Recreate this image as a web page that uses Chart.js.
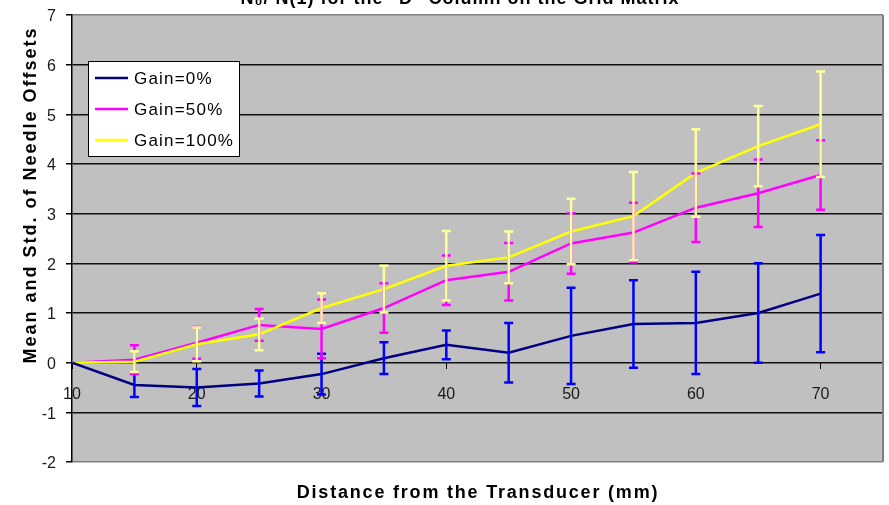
<!DOCTYPE html>
<html>
<head>
<meta charset="utf-8">
<script src="https://cdn.jsdelivr.net/npm/chart.js@4.4.1/dist/chart.umd.min.js"></script>
<style>
  html, body { margin: 0; padding: 0; background: #ffffff; }
  #wrap { width: 889px; height: 505px; }
</style>
</head>
<body>
<div id="wrap"><canvas id="c" width="889" height="505"></canvas></div>
<script>
// Distance from the transducer (mm)
const distances = [10, 15, 20, 25, 30, 35, 40, 45, 50, 55, 60, 65, 70];

// Mean needle offset and its standard deviation for each gain setting
const mean0   = [0, -0.45, -0.50, -0.42, -0.23, 0.09, 0.36, 0.20, 0.54, 0.78, 0.80, 1.00, 1.39];
const std0    = [null, 0.24, 0.37, 0.26, 0.41, 0.32, 0.29, 0.60, 0.97, 0.88, 1.03, 1.00, 1.18];
const mean50  = [0, 0.06, 0.40, 0.76, 0.68, 1.10, 1.66, 1.83, 2.40, 2.62, 3.12, 3.41, 3.78];
const std50   = [null, 0.29, 0.32, 0.32, 0.59, 0.50, 0.50, 0.58, 0.61, 0.60, 0.69, 0.68, 0.70];
const mean100 = [0, 0.02, 0.37, 0.57, 1.10, 1.48, 1.95, 2.12, 2.64, 2.95, 3.82, 4.36, 4.80];
const std100  = [null, 0.21, 0.34, 0.32, 0.30, 0.47, 0.70, 0.52, 0.66, 0.89, 0.88, 0.81, 1.06];

const seriesNames = ['Gain=0%', 'Gain=50%', 'Gain=100%'];

// Axis ticks
const xTicks = [10, 20, 30, 40, 50, 60, 70];
const yTicks = [-2, -1, 0, 1, 2, 3, 4, 5, 6, 7];

const chartTitle = 'N\u2080/ N(1) for the "D" Column on the Grid Matrix';
const xTitle = 'Distance from the Transducer (mm)';
const yTitle = 'Mean and Std. of Needle Offsets';

const FONT = '"Liberation Sans", Arial, sans-serif';

const lineColors = ['#000080', '#ff00ff', '#ffff00'];
const barColors  = ['#0000ff', '#ff00ff', '#ffff99'];
const means = [mean0, mean50, mean100];
const stds  = [std0, std50, std100];

const toPoints = arr => distances.map((d, i) => ({ x: d, y: arr[i] }));

// Gray plotting area, its frame, error bars, legend and titles
const decorations = {
  id: 'decorations',
  beforeDraw(chart) {
    const { ctx, chartArea: a } = chart;
    ctx.save();
    ctx.fillStyle = '#c0c0c0';
    ctx.fillRect(a.left, a.top, a.right - a.left, a.bottom - a.top);
    ctx.restore();
  },
  beforeDatasetsDraw(chart) {
    const { ctx, chartArea: a } = chart;
    ctx.save();
    ctx.strokeStyle = '#808080';
    ctx.lineWidth = 2;
    ctx.beginPath();
    ctx.moveTo(a.right, a.top);
    ctx.lineTo(a.right, a.bottom);
    ctx.stroke();
    ctx.restore();
  },
  afterDatasetsDraw(chart) {
    const { ctx } = chart;
    const xs = chart.scales.x, ys = chart.scales.y;
    ctx.save();
    ctx.lineWidth = 2.5;
    ctx.lineCap = 'butt';
    means.forEach((m, s) => {
      ctx.strokeStyle = barColors[s];
      distances.forEach((d, i) => {
        const sd = stds[s][i];
        if (sd === null) return;
        const px = xs.getPixelForValue(d);
        const top = ys.getPixelForValue(m[i] + sd);
        const bot = ys.getPixelForValue(m[i] - sd);
        const cap = 4.5;
        ctx.beginPath();
        ctx.moveTo(px, top); ctx.lineTo(px, bot);
        ctx.moveTo(px - cap, top); ctx.lineTo(px + cap, top);
        ctx.moveTo(px - cap, bot); ctx.lineTo(px + cap, bot);
        ctx.stroke();
      });
    });
    ctx.restore();
  },
  afterDraw(chart) {
    const { ctx } = chart;
    ctx.save();

    // legend
    const lx = 88.5, ly = 61.5, lw = 151, lh = 95;
    ctx.fillStyle = '#ffffff';
    ctx.fillRect(lx, ly, lw, lh);
    ctx.strokeStyle = '#000000';
    ctx.lineWidth = 1;
    ctx.strokeRect(lx, ly, lw, lh);
    const rows = [78, 109, 140];
    ctx.font = '17px ' + FONT;
    ctx.letterSpacing = '1.2px';
    ctx.textBaseline = 'middle';
    ctx.textAlign = 'left';
    seriesNames.forEach((name, i) => {
      ctx.strokeStyle = lineColors[i];
      ctx.lineWidth = 2.5;
      ctx.beginPath();
      ctx.moveTo(95, rows[i]); ctx.lineTo(128, rows[i]);
      ctx.stroke();
      ctx.fillStyle = '#000000';
      ctx.fillText(name, 134, rows[i] + 1);
    });

    // chart title (runs off the top edge)
    ctx.font = 'bold 18px ' + FONT;
    ctx.letterSpacing = '1px';
    ctx.textAlign = 'center';
    ctx.textBaseline = 'alphabetic';
    ctx.fillText(chartTitle, 460, 4);

    // x axis title
    ctx.letterSpacing = '1.8px';
    ctx.textBaseline = 'middle';
    ctx.fillText(xTitle, 478, 493);

    // y axis title
    ctx.letterSpacing = '2px';
    ctx.translate(31, 195);
    ctx.rotate(-Math.PI / 2);
    ctx.fillText(yTitle, 0, 0);
    ctx.restore();
  }
};

new Chart(document.getElementById('c'), {
  type: 'line',
  data: {
    datasets: [
      { label: seriesNames[0], data: toPoints(mean0), borderColor: lineColors[0], order: 0 },
      { label: seriesNames[1], data: toPoints(mean50), borderColor: lineColors[1], order: 2 },
      { label: seriesNames[2], data: toPoints(mean100), borderColor: lineColors[2], order: 1 }
    ]
  },
  options: {
    responsive: false,
    animation: false,
    devicePixelRatio: 1,
    layout: { autoPadding: false, padding: { left: 0, top: 15, right: 6, bottom: 43 } },
    elements: {
      line: { borderWidth: 2.5, tension: 0, fill: false },
      point: { radius: 0, hoverRadius: 0 }
    },
    plugins: {
      legend: { display: false },
      title: { display: false },
      tooltip: { enabled: false }
    },
    scales: {
      x: {
        type: 'linear',
        position: { y: 0 },
        min: 10,
        max: 75,
        afterBuildTicks: s => { s.ticks = xTicks.map(v => ({ value: v })); },
        afterFit: s => { s.paddingLeft = 0; s.paddingRight = 0; },
        ticks: {
          font: { family: FONT, size: 16 },
          color: '#1a1a1a',
          padding: 16,
          maxRotation: 0,
          autoSkip: false
        },
        grid: { drawOnChartArea: false, drawTicks: true, tickLength: 6, tickColor: '#000000' },
        border: { display: false }
      },
      y: {
        type: 'linear',
        min: -2,
        max: 7,
        afterBuildTicks: s => { s.ticks = yTicks.map(v => ({ value: v })); },
        afterFit: s => { s.width = 72; s.paddingTop = 0; s.paddingBottom = 0; },
        ticks: {
          font: { family: FONT, size: 16 },
          color: '#1a1a1a',
          padding: 10,
          labelOffset: 2
        },
        grid: {
          color: c => (c.tick && (c.tick.value === 7 || c.tick.value === -2)) ? '#808080' : '#111111',
          lineWidth: 1.5,
          tickLength: 6,
          tickColor: '#000000'
        },
        border: { display: true, color: '#000000', width: 1.5 }
      }
    }
  },
  plugins: [decorations]
});
</script>
</body>
</html>
